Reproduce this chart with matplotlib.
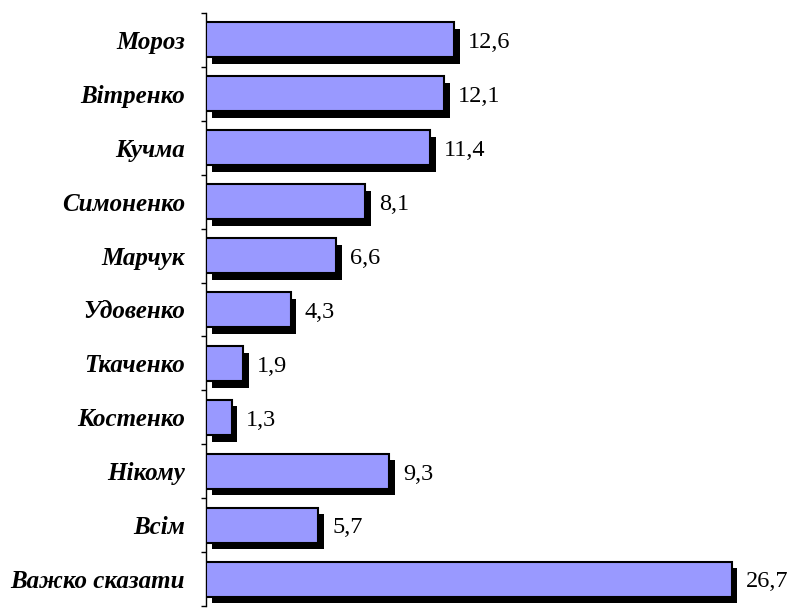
import matplotlib
matplotlib.use("Agg")
import matplotlib.pyplot as plt
import matplotlib.patheffects as pe
import numpy as np

categories = ["Мороз", "Вітренко", "Кучма", "Симоненко", "Марчук", "Удовенко",
              "Ткаченко", "Костенко", "Нікому", "Всім", "Важко сказати"]
values = [12.6, 12.1, 11.4, 8.1, 6.6, 4.3, 1.9, 1.3, 9.3, 5.7, 26.7]
value_labels = ["12,6", "12,1", "11,4", "8,1", "6,6", "4,3", "1,9", "1,3", "9,3", "5,7", "26,7"]

fig = plt.figure(figsize=(7.9, 6.08), dpi=100)
ax = fig.add_axes([206 / 790, 2 / 608, 571 / 790, 593 / 608])

y = np.arange(len(categories))
shadow = [pe.SimplePatchShadow(offset=(4.0, -4.8), shadow_rgbFace="black", alpha=1.0), pe.Normal()]
bars = ax.barh(y, values, height=0.65, color="#9999FF", edgecolor="black",
               linewidth=1.5, path_effects=shadow, zorder=3)

serif = ["Liberation Serif", "DejaVu Serif"]
for yi, v, lab in zip(y, values, value_labels):
    ax.annotate(lab, xy=(v, yi), xytext=(10, -2), textcoords="offset points",
                va="center", ha="left", fontsize=17.5, family=serif)

ax.set_xlim(0, 29)
ax.set_ylim(len(categories) - 0.5, -0.5)
ax.set_yticks(y)
ax.set_yticklabels(categories, family=serif, fontsize=18, fontweight="bold", fontstyle="italic")
ax.tick_params(axis="y", which="major", length=0, pad=15)
ax.set_yticks(np.arange(len(categories) + 1) - 0.5, minor=True)
ax.tick_params(axis="y", which="minor", length=3.8, width=1, color="black")
ax.set_xticks([])
for side in ("top", "right", "bottom"):
    ax.spines[side].set_visible(False)
ax.spines["left"].set_linewidth(1)

fig.savefig("out.png", dpi=100, facecolor="white")
